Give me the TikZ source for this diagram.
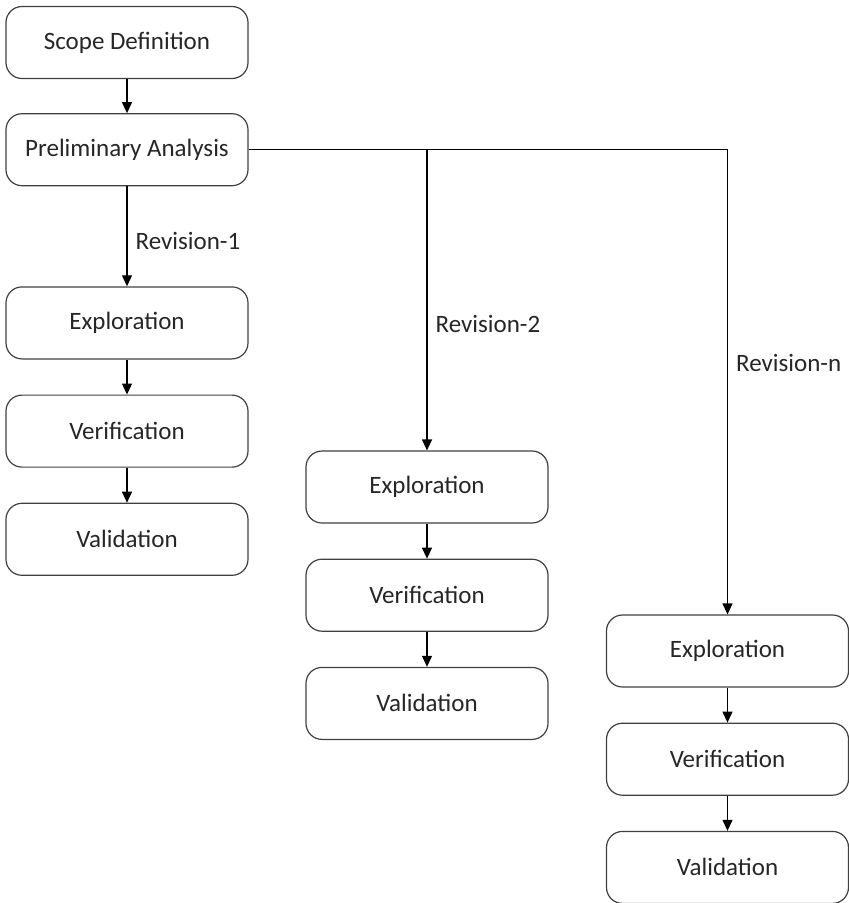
\documentclass[tikz,border=0pt]{standalone}
\usepackage{fontspec}
\setmainfont{Carlito}
\usepackage{xcolor}
\usetikzlibrary{arrows.meta,positioning}

\begin{document}
\begin{tikzpicture}[
  node distance=35pt,
  box/.style={draw=black!75, line width=1.2pt, rounded corners=16pt, align=center,
              minimum width=242pt, minimum height=72pt, font=\fontsize{25}{30}\selectfont,
              text=black!85},
  lbl/.style={font=\fontsize{25}{30}\selectfont, text=black!85, inner sep=8pt},
  arr/.style={-{Triangle[length=11pt,width=10pt]}, line width=1.2pt}
]
\useasboundingbox (0,0) rectangle (849pt,-903pt);

\node[box] (scope) at (127pt,-42.5pt) {Scope Definition};
\node[box, below=34pt of scope]  (prelim) {Preliminary Analysis};

% revision 1
\node[box, below=100pt of prelim] (exp1) {Exploration};
\node[box, below=of exp1]         (ver1) {Verification};
\node[box, below=of ver1]         (val1) {Validation};

% revision 2
\node[box] (exp2) at (427pt,-487pt) {Exploration};
\node[box, below=of exp2]         (ver2) {Verification};
\node[box, below=of ver2]         (val2) {Validation};

% revision n
\node[box] (exp3) at (727.5pt,-651pt) {Exploration};
\node[box, below=of exp3]         (ver3) {Verification};
\node[box, below=of ver3]         (val3) {Validation};

\draw[arr] (scope) -- (prelim);
\draw[arr] (prelim) -- node[lbl, right, pos=0.55] {Revision-1} (exp1);
\draw[arr] (prelim.east) -| node[lbl, right, pos=0.79] {Revision-2} (exp2);
\draw[arr] (prelim.east) -| node[lbl, right, pos=0.73] {Revision-n} (exp3);

\draw[arr] (exp1) -- (ver1);
\draw[arr] (ver1) -- (val1);
\draw[arr] (exp2) -- (ver2);
\draw[arr] (ver2) -- (val2);
\draw[arr] (exp3) -- (ver3);
\draw[arr] (ver3) -- (val3);
\end{tikzpicture}
\end{document}
